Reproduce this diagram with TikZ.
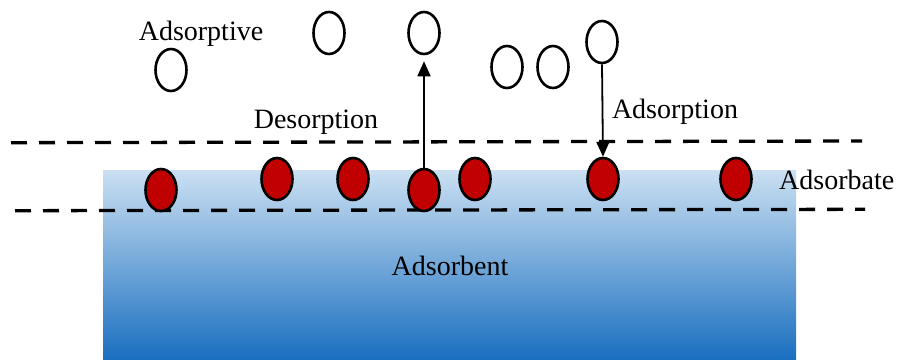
\documentclass[tikz,border=0pt]{standalone}
\usepackage{fontspec}
\setmainfont{Liberation Serif}
\usetikzlibrary{shapes.geometric,arrows.meta}
\definecolor{molred}{HTML}{C00000}
\definecolor{surftop}{HTML}{CBE0F2}
\definecolor{surfbot}{HTML}{1A6FC0}
\tikzset{
  mol/.style={ellipse, draw=black, line width=2.6pt, minimum width=31pt, minimum height=42pt, inner sep=0pt},
  gas/.style={mol, fill=white},
  ads/.style={mol, fill=molred},
  bound/.style={line width=3.3pt, dash pattern=on 16pt off 12pt},
  flow/.style={line width=1.8pt, -{Triangle[length=15pt,width=13pt]}},
  lbl/.style={font=\fontsize{28}{32}\selectfont, inner sep=0pt}
}
\begin{document}
\begin{tikzpicture}[x=1pt,y=-1pt]
\useasboundingbox (0,0) rectangle (900,359);
\shade[top color=surftop, bottom color=surfbot] (103,170) rectangle (796,359);
\draw[bound] (11,142.7) -- (862,141);
\draw[bound] (15,210.7) -- (865,209.3);
% gas-phase molecules
\node[gas] (g1) at (171,70) {};
\node[gas] (g2) at (329,33) {};
\node[gas] (g3) at (424,33) {};
\node[gas] (g4) at (507,67) {};
\node[gas] (g5) at (553,67) {};
\node[gas] (g6) at (602,42) {};
% adsorbed molecules
\node[ads] (a1) at (161,190) {};
\node[ads] (a2) at (277,179) {};
\node[ads] (a3) at (353,179) {};
\node[ads] (a4) at (424,190) {};
\node[ads] (a5) at (475,179) {};
\node[ads] (a6) at (603,179) {};
\node[ads] (a7) at (736,179) {};
% arrows
\draw[flow, shorten >=6pt] (a4.north) -- (g3.south);
\draw[flow] (g6.south) -- (a6.north);
% labels
\node[lbl] (tAdsorptive) at (201,34) {Adsorptive};
\node[lbl] (tDes) at (316,122) {Desorption};
\node[lbl] (tAds) at (675,112) {Adsorption};
\node[lbl, anchor=west] (tAdsb) at (779,180) {Adsorbate};
\node[lbl] (tAdsn) at (450,266) {Adsorbent};
\end{tikzpicture}
\end{document}
